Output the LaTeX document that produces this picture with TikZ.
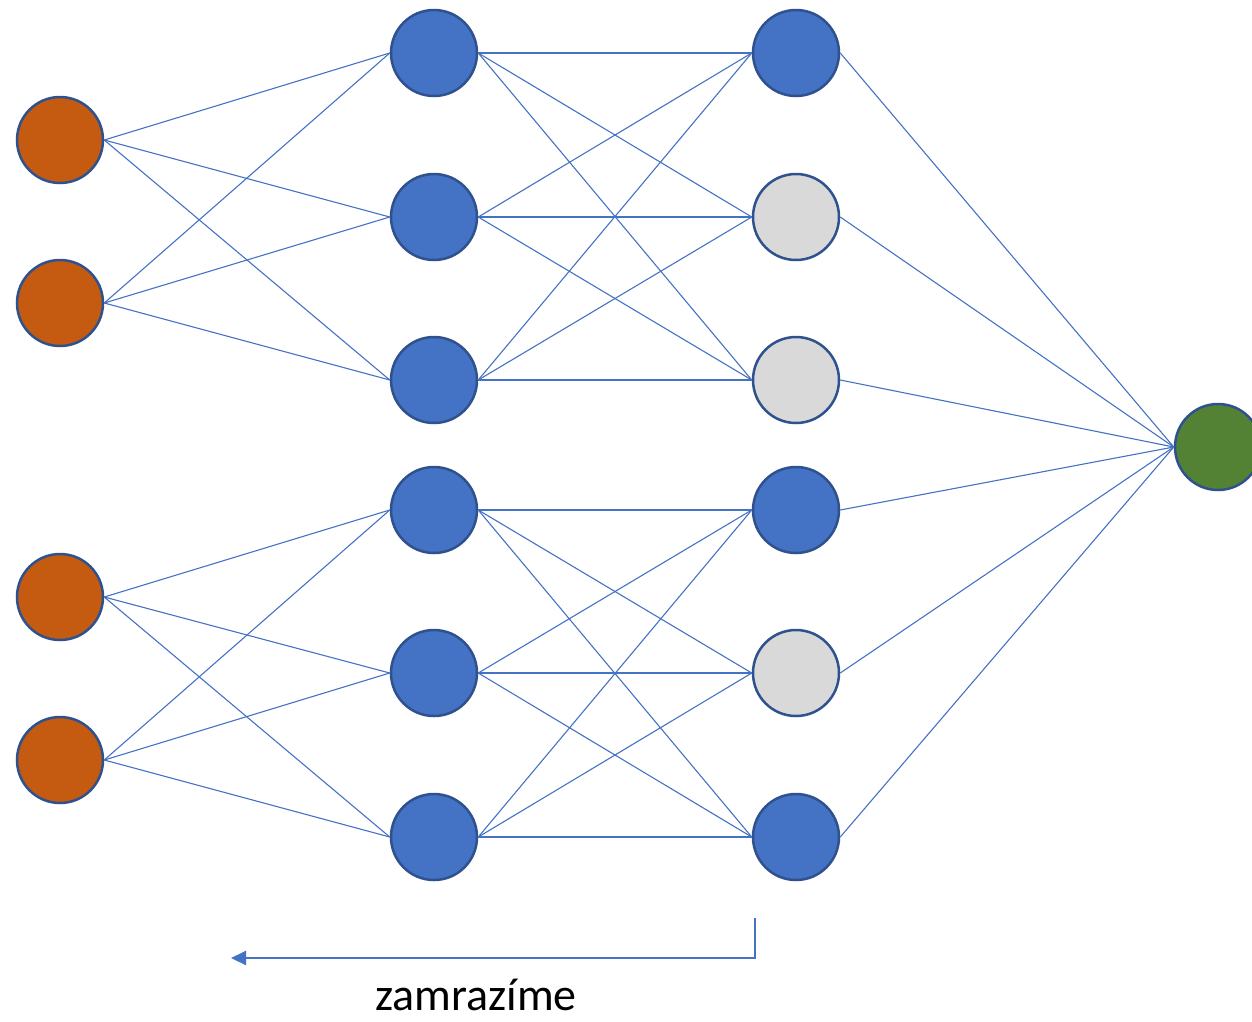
\documentclass[tikz,border=0pt]{standalone}
\usepackage{fontspec}
\setmainfont{Carlito}
\usetikzlibrary{arrows.meta}
\definecolor{edgeblue}{HTML}{4472C4}
\definecolor{rimblue}{HTML}{2F528F}
\definecolor{inorange}{HTML}{C55A11}
\definecolor{hidblue}{HTML}{4472C4}
\definecolor{frozengray}{HTML}{D9D9D9}
\definecolor{outgreen}{HTML}{548235}
\tikzset{
  neuron/.style={circle, draw=rimblue, line width=2.5pt, minimum size=86pt, inner sep=0pt},
  inneuron/.style={neuron, fill=inorange},
  hidneuron/.style={neuron, fill=hidblue},
  grayneuron/.style={neuron, fill=frozengray},
  outneuron/.style={neuron, fill=outgreen},
  link/.style={draw=edgeblue, line width=1.1pt},
  freezearrow/.style={draw=edgeblue, line width=2pt, -{Triangle[length=15pt,width=14pt]}}
}
\begin{document}
\begin{tikzpicture}[x=1pt,y=-1pt]
\useasboundingbox (0,0) rectangle (1252,1021);
% input layer
\node[inneuron] (in1) at (60,140) {};
\node[inneuron] (in2) at (60,303) {};
\node[inneuron] (in3) at (60,597) {};
\node[inneuron] (in4) at (60,760) {};
% first hidden layer
\node[hidneuron] (h1) at (434,53) {};
\node[hidneuron] (h2) at (434,217) {};
\node[hidneuron] (h3) at (434,380) {};
\node[hidneuron] (h4) at (434,510) {};
\node[hidneuron] (h5) at (434,673) {};
\node[hidneuron] (h6) at (434,837) {};
% second hidden layer
\node[hidneuron] (g1) at (796,53) {};
\node[grayneuron] (g2) at (796,217) {};
\node[grayneuron] (g3) at (796,380) {};
\node[hidneuron] (g4) at (796,510) {};
\node[grayneuron] (g5) at (796,673) {};
\node[hidneuron] (g6) at (796,837) {};
% output
\node[outneuron] (out) at (1218,447) {};
% connections
\foreach \i in {in1,in2} \foreach \j in {h1,h2,h3} \draw[link] (\i.east) -- (\j.west);
\foreach \i in {in3,in4} \foreach \j in {h4,h5,h6} \draw[link] (\i.east) -- (\j.west);
\foreach \i in {h1,h2,h3} \foreach \j in {g1,g2,g3} \draw[link] (\i.east) -- (\j.west);
\foreach \i in {h4,h5,h6} \foreach \j in {g4,g5,g6} \draw[link] (\i.east) -- (\j.west);
\foreach \i in {g1,g2,g3,g4,g5,g6} \draw[link] (\i.east) -- (out.west);
% freeze arrow and label
\coordinate (fstart) at (755,918);
\coordinate (fend) at (231,958);
\draw[freezearrow] (fstart) |- (fend);
\node[anchor=base, font=\fontsize{46}{55}\selectfont, inner sep=0pt, text depth=0pt] (label) at (476,1010) {zamrazíme};
\end{tikzpicture}
\end{document}
